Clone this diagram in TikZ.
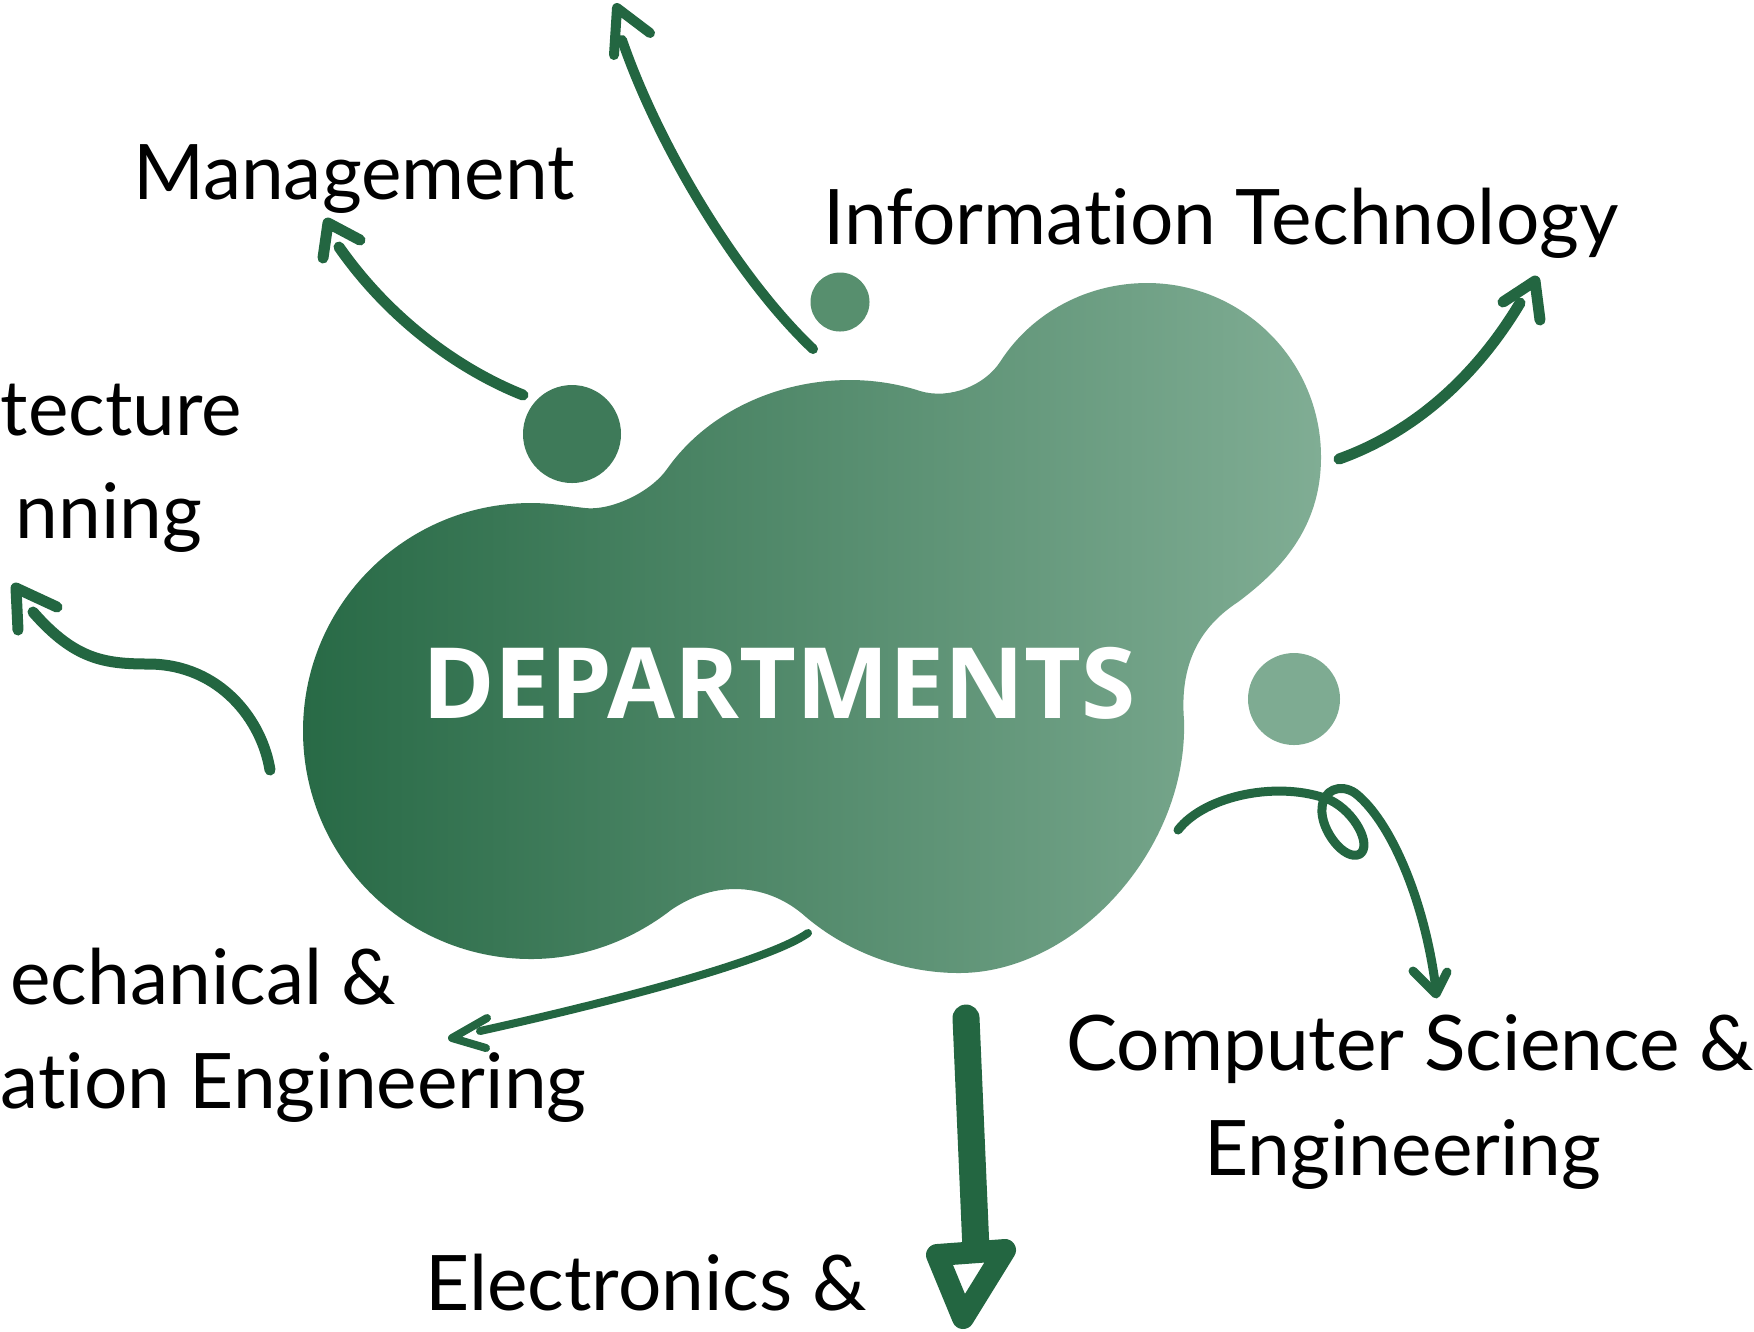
\documentclass[tikz,border=0pt]{standalone}
\usepackage{fontspec}
\setmainfont{Lato}[Ligatures=NoCommon]
\newfontfamily\depfont{Open Sans}
\definecolor{arrowgreen}{RGB}{35,102,65}
\definecolor{blobleft}{RGB}{40,106,70}
\definecolor{blobright}{RGB}{128,173,148}
\definecolor{dotA}{RGB}{62,122,89}
\definecolor{dotB}{RGB}{87,143,110}
\definecolor{dotC}{RGB}{126,171,146}
\begin{document}
\begin{tikzpicture}[x=0.1mm,y=-0.1mm,
  arr/.style={draw=arrowgreen, line width=1.1mm, line cap=round, line join=round},
  thinarr/.style={arr, line width=0.8mm},
  lbl/.style={font=\fontsize{21.8}{26}\selectfont, text=black, inner sep=0pt},
  dot/.style={circle, inner sep=0pt},
]
\fill[white] (0,0) rectangle (1754,1331);
\useasboundingbox (0,0) rectangle (1754,1331);
\clip (0,0) rectangle (1754,1331);

% central blob
\shade[left color=blobleft, right color=blobright]
 (531,503) .. controls (550,503) and (568,506) .. (585,508)
 .. controls (610,511) and (650,493) .. (667,469)
 .. controls (708,411) and (779,380) .. (850,380)
 .. controls (880,380) and (905,386) .. (920,391)
 .. controls (950,400) and (985,385) .. (1000,362)
 .. controls (1032,312) and (1088,283) .. (1147,283)
 .. controls (1243,283) and (1321,361) .. (1321,457)
 .. controls (1321,530) and (1278,572) .. (1238,602)
 .. controls (1195,630) and (1180,670) .. (1184,720)
 .. controls (1188,850) and (1075,973) .. (959,973)
 .. controls (900,973) and (845,950) .. (806,917)
 .. controls (785,898) and (760,889) .. (735,889)
 .. controls (712,889) and (690,897) .. (671,910)
 .. controls (631,941) and (582,959) .. (531,959)
 .. controls (405,959) and (303,857) .. (303,731)
 .. controls (303,605) and (405,503) .. (531,503) -- cycle;

\node[font=\depfont\bfseries\fontsize{28}{33}\selectfont, text=white, inner sep=0pt, anchor=base] (dept) at (779,718) {DEPARTMENTS};

% dots
\node[dot, fill=dotA, minimum size=9.8mm] (dot1) at (572,434) {};
\node[dot, fill=dotB, minimum size=5.9mm] (dot2) at (840,302) {};
\node[dot, fill=dotC, minimum size=9.2mm] (dot3) at (1294,699) {};

% labels
\node[lbl, anchor=base] (mgmt) at (354,199) {Management};
\node[lbl, anchor=base] (it) at (1221,244) {Information Technology};
\node[lbl, anchor=base west] (arch1) at (0,435) {tecture};
\node[lbl, anchor=base east] (arch2) at (203,538) {nning};
\node[lbl, anchor=base east] (mech1) at (397,1004) {echanical \&};
\node[lbl, anchor=base west] (mech2) at (0,1108) {ation Engineering};
\node[lbl, anchor=base] (elec) at (646,1310) {Electronics \&};
\node[lbl, anchor=base] (cse1) at (1410,1070) {Computer Science \&};
\node[lbl, anchor=base] (cse2) at (1403,1175) {Engineering};

% arrow to Management
\coordinate (m0) at (523,395);
\coordinate (m1) at (339,247);
\coordinate (mt) at (328,223);
\draw[arr] (m0) .. controls (460,370) and (390,320) .. (m1);
\draw[arr] (323,258) -- (mt) -- (360,240);

% arrow to top edge
\coordinate (t0) at (813,349);
\coordinate (t1) at (622,40);
\coordinate (tt) at (617,8);
\draw[arr, line width=1mm] (t0) .. controls (740,280) and (660,150) .. (t1);
\draw[arr, line width=1mm] (614,55) -- (tt) -- (650,33);

% arrow to Information Technology
\coordinate (i0) at (1339,459);
\coordinate (i1) at (1520,303);
\coordinate (itip) at (1535,281);
\draw[arr] (i0) .. controls (1420,430) and (1480,370) .. (i1);
\draw[arr] (1503,302) -- (itip) -- (1540,320);

% arrow to Architecture
\coordinate (a0) at (270,770);
\coordinate (a1) at (33,612);
\coordinate (atip) at (16,588);
\draw[arr] (a0) .. controls (262,720) and (220,665) .. (150,664)
  .. controls (105,664) and (75,660) .. (a1);
\draw[arr] (18,630) -- (atip) -- (57,607);

% arrow to Mechanical
\coordinate (e0) at (808,933);
\coordinate (e1) at (480,1031);
\coordinate (etip) at (452,1038);
\draw[thinarr] (e0) .. controls (770,960) and (620,1000) .. (e1);
\draw[thinarr] (487,1018) -- (etip) -- (486,1048);

% arrow to Computer Science
\coordinate (c0) at (1178,830);
\coordinate (c1) at (1436,990);
\coordinate (ctip) at (1436,994);
\draw[thinarr, line width=0.9mm] (c0) .. controls (1205,795) and (1280,780) .. (1330,800)
  .. controls (1355,812) and (1372,845) .. (1360,854)
  .. controls (1345,862) and (1320,830) .. (1322,808)
  .. controls (1323,790) and (1340,783) .. (1355,793)
  .. controls (1390,820) and (1425,900) .. (c1);
\draw[thinarr, line width=0.9mm] (1413,971) -- (ctip) -- (1447,972);

% arrow to Electronics
\coordinate (d0) at (966,1018);
\coordinate (d1) at (976,1250);
\draw[draw=arrowgreen, line width=2.7mm, line cap=round] (d0) -- (d1);
\draw[draw=arrowgreen, fill=white, line width=2.2mm, line join=round]
  (937,1255) -- (1005,1250) -- (963,1318) -- cycle;
\end{tikzpicture}
\end{document}
